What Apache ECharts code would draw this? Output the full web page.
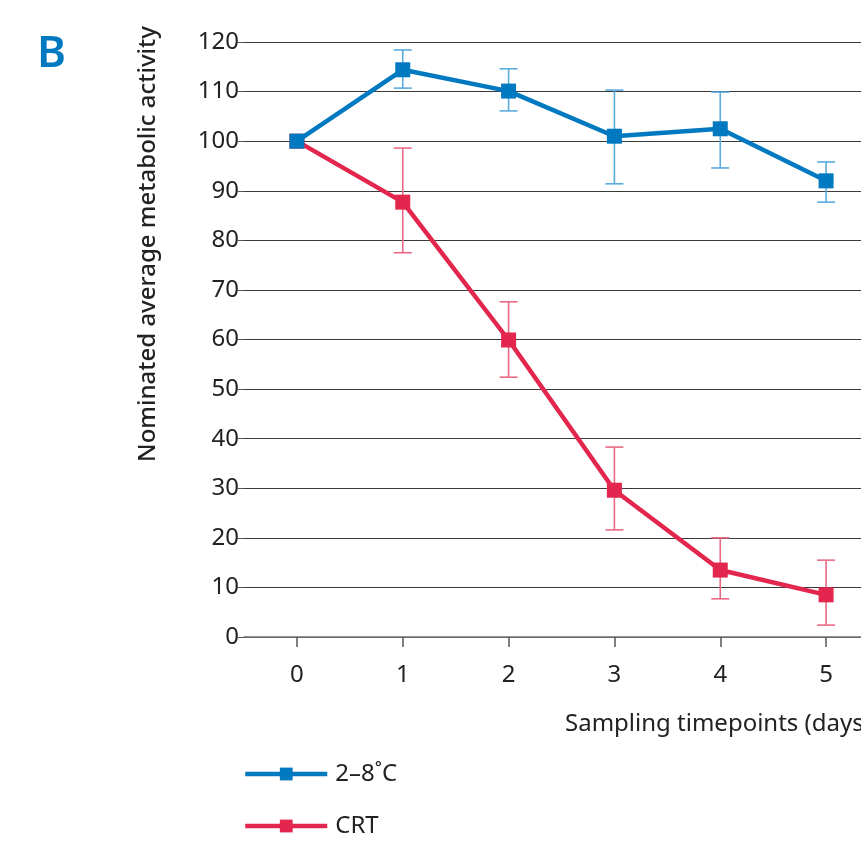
<!DOCTYPE html>
<html>
<head>
<meta charset="utf-8">
<script src="https://cdn.jsdelivr.net/npm/echarts@6/dist/echarts.min.js"></script>
<style>html,body{margin:0;padding:0;background:#fff;}#c{width:861px;height:846px;}</style>
</head>
<body>
<div id="c"></div>
<script>
var categories = ['0', '1', '2', '3', '4', '5'];
var yTicks = [0, 10, 20, 30, 40, 50, 60, 70, 80, 90, 100, 110, 120];
var coldName = '2–8˚C';
var coldMean = [100, 114.4, 110.1, 101.0, 102.5, 92.0];
var coldLow  = [100, 110.7, 106.1, 91.4, 94.6, 87.7];
var coldHigh = [100, 118.4, 114.6, 110.3, 109.9, 95.8];
var crtName = 'CRT';
var crtMean = [100, 87.7, 59.9, 29.6, 13.5, 8.5];
var crtLow  = [100, 77.5, 52.4, 21.6, 7.7, 2.4];
var crtHigh = [100, 98.6, 67.6, 38.3, 20.0, 15.5];

var BLUE = '#0079c1', BLUE_L = '#5aacde';
var RED = '#e2264d', RED_L = '#ea6a84';
var FONT = 'Noto Sans';

function errData(low, high) {
  return categories.map(function (c, i) { return [i, low[i], high[i]]; })
    .filter(function (d) { return d[1] !== d[2]; });
}
function errSeries(name, low, high, color) {
  return {
    type: 'custom', name: name + ' err', z: 1, silent: true,
    data: errData(low, high),
    renderItem: function (params, api) {
      var x = api.value(0);
      var lo = api.coord([x, api.value(1)]);
      var hi = api.coord([x, api.value(2)]);
      var hw = 9;
      var st = { stroke: color, lineWidth: 1.6 };
      return { type: 'group', children: [
        { type: 'line', shape: { x1: lo[0], y1: lo[1], x2: hi[0], y2: hi[1] }, style: st },
        { type: 'line', shape: { x1: lo[0] - hw, y1: lo[1], x2: lo[0] + hw, y2: lo[1] }, style: st },
        { type: 'line', shape: { x1: hi[0] - hw, y1: hi[1], x2: hi[0] + hw, y2: hi[1] }, style: st }
      ]};
    },
    encode: { x: 0, y: [1, 2] }
  };
}
function legendFor(name, top) {
  return {
    orient: 'horizontal', left: 243, top: top, padding: 0, itemWidth: 82, itemHeight: 16,
    lineStyle: { width: 4.5 },
    textStyle: { color: '#222', fontSize: 24, fontFamily: FONT, padding: [0, 0, 0, 3] },
    data: [name]
  };
}

var chart = echarts.init(document.getElementById('c'), null, { renderer: 'canvas' });
chart.setOption({
  animation: false,
  backgroundColor: '#fff',
  grid: { left: 244, top: 42, height: 595, width: 635, containLabel: false, outerBoundsMode: 'none' },
  xAxis: {
    type: 'category', data: categories, boundaryGap: true,
    axisLine: { show: true, lineStyle: { color: '#777', width: 1.5 } },
    axisTick: { show: true, alignWithLabel: true, length: 10, lineStyle: { color: '#555', width: 1.5 } },
    axisLabel: { color: '#222', fontSize: 24, fontFamily: FONT, margin: 26 },
    splitLine: { show: false }
  },
  yAxis: {
    type: 'value', min: 0, max: 120, interval: 10,
    axisLine: { show: false },
    axisTick: { show: true, length: 6, lineStyle: { color: '#555', width: 1 } },
    axisLabel: { color: '#222', fontSize: 24, fontFamily: FONT, margin: 5,
      formatter: function (v) { return yTicks.indexOf(v) >= 0 ? String(v) : ''; } },
    splitLine: { show: true, lineStyle: { color: '#3a3a3a', width: 1.2 } }
  },
  legend: [legendFor(coldName, 762), legendFor(crtName, 814)],
  graphic: [
    { type: 'text', left: 37, top: 32, style: { text: 'B', fill: BLUE, font: '600 44px "Noto Sans"' } },
    { type: 'text', x: 148, y: 244, rotation: Math.PI / 2,
      style: { text: 'Nominated average metabolic activity', fill: '#222', font: '500 24px "Noto Sans"', textAlign: 'center', textVerticalAlign: 'middle' } },
    { type: 'text', left: 565, top: 712, style: { text: 'Sampling timepoints (days)', fill: '#222', font: '24px "Noto Sans"' } }
  ],
  series: [
    errSeries(coldName, coldLow, coldHigh, BLUE_L),
    errSeries(crtName, crtLow, crtHigh, RED_L),
    { name: crtName, type: 'line', data: crtMean, z: 3, symbol: 'rect', symbolSize: 15,
      lineStyle: { color: RED, width: 4.5 }, itemStyle: { color: RED } },
    { name: coldName, type: 'line', data: coldMean, z: 4, symbol: 'rect', symbolSize: 15,
      lineStyle: { color: BLUE, width: 4.5 }, itemStyle: { color: BLUE } }
  ]
});
</script>
</body>
</html>
